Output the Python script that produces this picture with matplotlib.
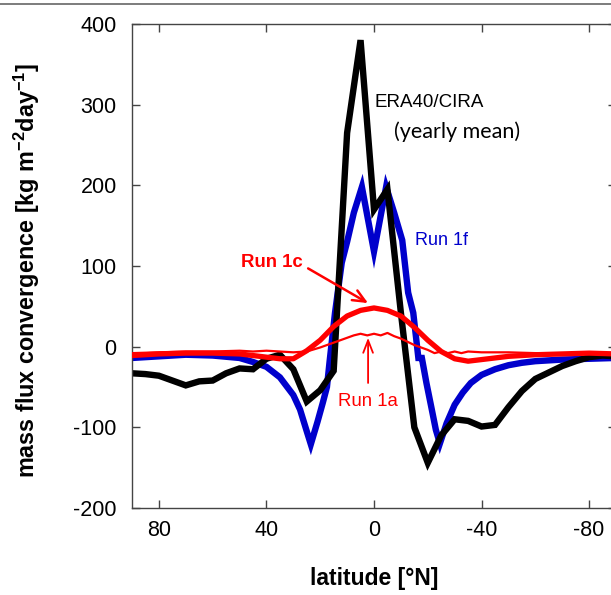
import matplotlib
matplotlib.use("Agg")
import matplotlib.pyplot as plt
from matplotlib.lines import Line2D

plt.rcParams["mathtext.fontset"] = "custom"
plt.rcParams["mathtext.bf"] = "Liberation Sans:bold"
plt.rcParams["mathtext.rm"] = "Liberation Sans"
plt.rcParams["mathtext.default"] = "bf"

# ---------------- data ----------------
lat_era = [90, 85, 80, 75, 70, 65, 60, 55, 50, 45, 40, 35, 30, 25, 20, 15, 10, 5, 0,
           -5, -10, -15, -20, -25, -30, -35, -40, -45, -50, -55, -60, -65, -70, -75, -80, -85, -90]
era = [-33, -34, -36, -42, -48, -43, -42, -33, -27, -28, -15, -10, -28, -68, -54, -30, 265, 380, 170,
       195, 42, -100, -144, -110, -90, -92, -99, -97, -75, -55, -40, -32, -24, -18, -13, -11, -12]

lat_1f = [90, 80, 70, 60, 50, 45, 40, 35, 30, 27.5, 25, 23.5, 21, 19, 17.5, 16.5, 14.5, 12, 10, 7.5, 4.5, 0,
          -4.5, -7.5, -10.5, -12.7, -14.6, -16.5, -17.8, -19.5, -21.5, -23, -24.5, -27, -30, -33, -36, -40,
          -45, -50, -55, -60, -70, -80, -90]
run1f = [-14, -12, -10, -11, -14, -19, -25, -38, -60, -78, -105, -121, -93, -69, -50, -18, 42, 104, 130, 166, 198, 118,
         198, 166, 132, 67, 42, -14, -14, -45, -78, -103, -120, -95, -72, -57, -45, -35,
         -28, -23, -20, -18, -16, -15, -14]

lat_1c = [90, 80, 70, 60, 50, 45, 40, 35, 30, 25, 20, 15, 10, 5, 0, -5, -10, -15, -20, -25, -30, -35,
          -40, -45, -50, -60, -70, -80, -90]
run1c = [-11, -9, -8, -8, -9, -11, -13, -15, -15, -5, 8, 25, 38, 45, 48, 45, 38, 24, 8, -6, -15, -18,
         -16, -14, -12, -10, -9, -8, -9]

lat_1a = [90, 80, 70, 60, 50, 45, 40, 35, 30, 25, 20, 15, 10, 7.5, 5, 2.5, 0, -2.5, -5, -7.5, -10, -12.5,
          -15, -20, -22.5, -25, -27.5, -30, -32.5, -35, -40, -50, -60, -70, -80, -90]
run1a = [-8, -7, -6, -6, -5, -6, -5, -6, -7, -6, -1, 5, 11, 14, 16, 14, 16, 14, 17, 13, 10, 6,
         2, -4, -8, -6, -8, -6, -8, -6, -7, -7, -8, -8, -8, -9]

xticks = [80, 40, 0, -40, -80]
yticks = [-200, -100, 0, 100, 200, 300, 400]

# ---------------- figure ----------------
fig = plt.figure(figsize=(6.11, 5.95), dpi=100)
ax = fig.add_axes([132/611, 87/595, 484/611, 484/595])

ax.plot(lat_1a, run1a, color="#ff0000", lw=1.6, solid_joinstyle="round", zorder=3)
ax.plot(lat_1c, run1c, color="#ff0000", lw=3.8, solid_joinstyle="round", zorder=3)
ax.plot(lat_1f, run1f, color="#0000cc", lw=4.6, solid_joinstyle="miter", zorder=2)
ax.plot(lat_era, era, color="black", lw=4.6, solid_joinstyle="miter", zorder=2)

ax.set_xlim(90, -90)
ax.set_ylim(-200, 400)
ax.set_xticks(xticks)
ax.set_yticks(yticks)
ax.set_xticklabels([str(v) for v in xticks])
ax.set_yticklabels([str(v) for v in yticks])

for sp in ax.spines.values():
    sp.set_color("#444444")
    sp.set_linewidth(1.0)

ax.tick_params(direction="in", length=6, width=1, color="#444444",
               top=True, right=True, labelsize=15.5, pad=9)
ax.tick_params(axis="y", pad=11)
for lab in ax.get_xticklabels() + ax.get_yticklabels():
    lab.set_fontfamily("Liberation Sans")

ax.set_xlabel("latitude [°N]", fontsize=16.5, fontweight="bold", family="Liberation Sans")
ax.set_ylabel(r"mass flux convergence [kg m$^{-2}$day$^{-1}$]",
              fontsize=16.8, fontweight="bold", family="Liberation Sans")
ax.xaxis.set_label_coords(0.5, -(567 - 508) / 484)
ax.yaxis.set_label_coords(-(132 - 42) / 484, (508 - 270) / 484)

# annotations
ax.text(-0.3, 303, "ERA40/CIRA", color="black", fontsize=13.5, family="Liberation Sans",
        ha="left", va="center")
ax.text(-7.5, 266, "(yearly mean)", color="black", fontsize=15.5, family="Lato",
        ha="left", va="center")
ax.text(-15.3, 131, "Run 1f", color="#0000cc", fontsize=13, family="Liberation Sans",
        ha="left", va="center")
ax.text(49.5, 104, "Run 1c", color="#ff0000", fontsize=13.4, fontweight="bold",
        family="Liberation Sans", ha="left", va="center")
ax.text(13.4, -68, "Run 1a", color="#ff0000", fontsize=13.4, family="Liberation Sans",
        ha="left", va="center")

ax.annotate("", xy=(2.2, 54), xytext=(24.5, 97),
            arrowprops=dict(arrowstyle="->,head_length=0.9,head_width=0.4", color="#ff0000",
                            lw=1.8, shrinkA=0, shrinkB=0))
ax.annotate("", xy=(2.2, 11), xytext=(2.2, -45),
            arrowprops=dict(arrowstyle="->,head_length=0.9,head_width=0.35", color="#ff0000",
                            lw=1.3, shrinkA=0, shrinkB=0))

# top border line of the figure
fig.add_artist(Line2D([0, 1], [1 - 4/595, 1 - 4/595], color="#666666", lw=1.2,
                      transform=fig.transFigure))

fig.savefig("out.png", dpi=100)
